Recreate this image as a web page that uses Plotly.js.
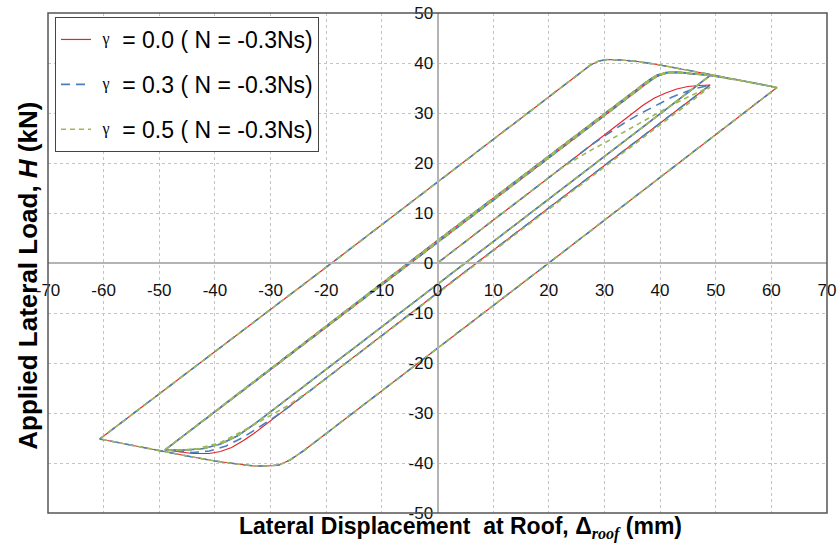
<!DOCTYPE html>
<html>
<head>
<meta charset="utf-8">
<script src="https://cdn.plot.ly/plotly-3.0.1.min.js"></script>
<style>html,body{margin:0;padding:0;background:#fff;}#chart{width:837px;height:545px;}</style>
</head>
<body>
<div id="chart"></div>
<script>
// ---- series-specific first cycle (+49 mm then -49 mm) ----
const initDispG00 = [0, 31, 33, 35, 37, 39, 41, 43, 45, 47, 49];
const initLoadG00 = [0, 26.5, 28.3, 30.0, 31.6, 33.0, 34.0, 34.8, 35.3, 35.5, 35.6];
const negDispG00 = [7, -28, -31, -33, -35, -37, -39, -41, -44, -49];
const negLoadG00 = [0, -29.9, -32.4, -34.1, -35.6, -36.9, -37.7, -38.1, -38.1, -37.5];

const initDispG03 = [0, 28, 30, 32, 34, 36, 38, 40, 42, 44, 46, 49];
const initLoadG03 = [0, 23.9, 25.4, 26.9, 28.3, 29.6, 30.8, 32.0, 33.1, 34.0, 34.8, 35.6];
const negDispG03 = [7, -26, -29, -32, -35, -38, -41, -44, -49];
const negLoadG03 = [0, -28.2, -30.6, -32.8, -34.9, -36.6, -37.6, -37.9, -37.5];

const initDispG05 = [0, 22, 24, 27, 30, 34, 38, 42, 45, 49];
const initLoadG05 = [0, 18.8, 20.2, 22.2, 24.0, 26.5, 29.0, 31.5, 33.2, 35.2];
const negDispG05 = [7.2, -23, -27, -31, -35, -39, -43, -46, -49];
const negLoadG05 = [0, -25.6, -28.6, -31.1, -33.6, -35.9, -37.1, -37.4, -37.5];

// ---- common later cycles ----
const reload49Disp = [-49, 0, 38, 39.5, 41, 43, 46, 49];
const reload49Load = [-37.4, 4.5, 36.6, 37.6, 38.1, 38.2, 37.9, 37.5];
const reload49bDisp = [-49, 0, 38.3, 39.8, 41.3, 43, 46, 49];
const reload49bLoad = [-37.4, 4.1, 36.5, 37.5, 38.0, 38.1, 37.8, 37.5];
const unload49Disp = [49, 5, -30, -33, -36, -39, -42, -45, -49];
const unload49Load = [37.5, 0, -29.8, -32.3, -34.6, -36.2, -37.1, -37.4, -37.4];
const push61Disp = [49, 55, 61];
const push61Load = [37.5, 36.4, 35.1];
const unload61Disp = [61, 20, -24, -26.5, -28.5, -30.5, -33, -36, -40, -45, -49, -55, -60.7];
const unload61Load = [35.1, 0, -37.5, -39.4, -40.4, -40.6, -40.6, -40.2, -39.6, -38.6, -37.7, -36.4, -35.2];
const reload61Disp = [-60.7, -19, 27.5, 29, 30.5, 33, 36, 40, 45, 49, 55, 61];
const reload61Load = [-35.2, 0, 39.6, 40.4, 40.7, 40.6, 40.3, 39.6, 38.6, 37.7, 36.4, 35.1];

const xTicks = [-70, -60, -50, -40, -30, -20, -10, 0, 10, 20, 30, 40, 50, 60, 70];
const yTicks = [-50, -40, -30, -20, -10, 0, 10, 20, 30, 40, 50];
const seriesNames = ['0.0', '0.3', '0.5'];

function buildPath(iD, iL, nD, nL) {
  const xs = [].concat(iD, nD, reload49Disp, unload49Disp, reload49bDisp, unload49Disp, reload49Disp,
                       push61Disp, unload61Disp, reload61Disp);
  const ys = [].concat(iL, nL, reload49Load, unload49Load, reload49bLoad, unload49Load, reload49Load,
                       push61Load, unload61Load, reload61Load);
  return {x: xs, y: ys};
}

const pG00 = buildPath(initDispG00, initLoadG00, negDispG00, negLoadG00);
const pG03 = buildPath(initDispG03, initLoadG03, negDispG03, negLoadG03);
const pG05 = buildPath(initDispG05, initLoadG05, negDispG05, negLoadG05);

function legendText(g) {
  return '\u00a0<span style="font-family:Liberation Serif;font-size:16px;baseline-shift:4px">γ</span>\u00a0 = ' + g + ' ( N = -0.3Ns)';
}

const traces = [
  {x: pG00.x, y: pG00.y, mode: 'lines', name: legendText(seriesNames[0]), legendgroup: 'a',
   line: {color: '#e4252d', width: 1.2}},
  {x: pG03.x, y: pG03.y, mode: 'lines', name: legendText(seriesNames[1]), legendgroup: 'b',
   line: {color: '#4a7ebb', width: 1.6, dash: '9px,6px'}},
  {x: pG05.x, y: pG05.y, mode: 'lines', name: legendText(seriesNames[2]), legendgroup: 'c',
   line: {color: '#9bbb59', width: 1.6, dash: '5px,4px'}}
];

const tickFont = {family: 'Liberation Sans, Arial, sans-serif', size: 17, color: '#111'};

const layout = {
  width: 837, height: 545,
  margin: {l: 48, r: 10, t: 13, b: 32},
  paper_bgcolor: '#fff', plot_bgcolor: '#fff',
  showlegend: true,
  legend: {
    x: 0.009, y: 0.992, xanchor: 'left', yanchor: 'top',
    bgcolor: '#fff', bordercolor: '#444', borderwidth: 1,
    font: {family: 'Liberation Sans, Arial, sans-serif', size: 23, color: '#000'},
    tracegroupgap: 12, itemwidth: 30
  },
  xaxis: {
    range: [-70, 70], tickvals: xTicks, ticktext: xTicks.map(String),
    anchor: 'free', position: 0.5,
    showline: true, linecolor: '#b4b4b4', linewidth: 2,
    zeroline: false, ticks: '', ticklabelstandoff: 12,
    showgrid: true, gridcolor: '#c4c4c4', gridwidth: 1, griddash: '3px,3px',
    tickfont: tickFont, fixedrange: true
  },
  yaxis: {
    range: [-50, 50], tickvals: yTicks, ticktext: yTicks.map(String),
    anchor: 'free', position: 0.5,
    showline: true, linecolor: '#b4b4b4', linewidth: 2,
    zeroline: false, ticks: '',
    showgrid: true, gridcolor: '#c4c4c4', gridwidth: 1, griddash: '3px,3px',
    tickfont: tickFont, fixedrange: true
  },
  shapes: [
    {type: 'rect', xref: 'paper', yref: 'paper', x0: 0, x1: 1, y0: 0, y1: 1,
     line: {color: '#555', width: 1.5}, layer: 'above'}
  ],
  annotations: [
    {text: '<b>Applied Lateral Load, <i>H</i> (kN)</b>', xref: 'paper', yref: 'paper',
     x: -0.026, y: 0.474, xanchor: 'center', yanchor: 'middle', textangle: -90, showarrow: false,
     font: {family: 'Liberation Sans, Arial, sans-serif', size: 26, color: '#000'}},
    {text: '<b>Lateral Displacement\u00a0 at Roof, Δ<sub><span style="font-family:Liberation Serif"><i>roof</i></span></sub> (mm)</b>',
     xref: 'paper', yref: 'paper', x: 0.529, y: -0.03, xanchor: 'center', yanchor: 'middle', showarrow: false,
     font: {family: 'Liberation Sans Narrow, Arial Narrow, Liberation Sans, sans-serif', size: 23, color: '#000'}}
  ]
};

Plotly.newPlot('chart', traces, layout, {displayModeBar: false, staticPlot: true});
</script>
</body>
</html>
